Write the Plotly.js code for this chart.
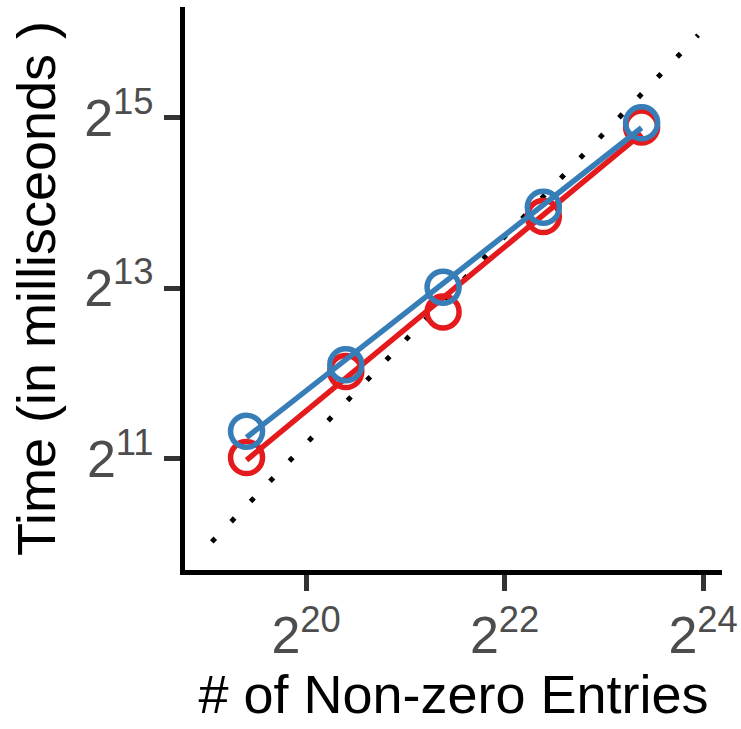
<!DOCTYPE html>
<html>
<head>
<meta charset="utf-8">
<script src="https://cdn.plot.ly/plotly-3.0.1.min.js"></script>
<style>html,body{margin:0;padding:0;background:#fff;}#chart{width:741px;height:729px;}</style>
</head>
<body>
<div id="chart"></div>
<script>
// log2 of number of non-zero entries
const nnzLog2 = [19.4, 20.4, 21.38, 22.39, 23.38];
// log2 of time in milliseconds
const redTimeLog2 = [11.01, 12.02, 12.72, 13.84, 14.89];
const blueTimeLog2 = [11.32, 12.10, 13.01, 13.95, 14.94];
// dotted reference line (log2 endpoints)
const refXLog2 = [19.05, 23.95];
const refYLog2 = [10.02, 15.97];
// tick exponents
const xTickExp = [20, 22, 24];
const yTickExp = [11, 13, 15];

const pow2 = a => a.map(v => Math.pow(2, v));
function fit(xs, ys) {
  const n = xs.length;
  const mx = xs.reduce((s, v) => s + v, 0) / n;
  const my = ys.reduce((s, v) => s + v, 0) / n;
  let sxy = 0, sxx = 0;
  for (let i = 0; i < n; i++) { sxy += (xs[i] - mx) * (ys[i] - my); sxx += (xs[i] - mx) ** 2; }
  const b = sxy / sxx, a = my - b * mx;
  const x0 = Math.min(...xs), x1 = Math.max(...xs);
  return { x: [x0, x1], y: [a + b * x0, a + b * x1] };
}
const redFit = fit(nnzLog2, redTimeLog2);
const blueFit = fit(nnzLog2, blueTimeLog2);

const RED = '#e41a1c', BLUE = '#377eb8';
const L2 = Math.log10(2);

const traces = [
  { x: pow2(refXLog2), y: pow2(refYLog2), mode: 'lines', line: { color: '#000', width: 5, dash: '5px,23px' }, hoverinfo: 'skip' },
  { x: pow2(nnzLog2), y: pow2(redTimeLog2), mode: 'markers', marker: { symbol: 'circle-open', size: 32, color: RED, line: { width: 5.5, color: RED } } },
  { x: pow2(redFit.x), y: pow2(redFit.y), mode: 'lines', line: { color: RED, width: 5.5 } },
  { x: pow2(nnzLog2), y: pow2(blueTimeLog2), mode: 'markers', marker: { symbol: 'circle-open', size: 32, color: BLUE, line: { width: 5.5, color: BLUE } } },
  { x: pow2(blueFit.x), y: pow2(blueFit.y), mode: 'lines', line: { color: BLUE, width: 5.5 } }
];

const font = 'Liberation Sans, Arial, sans-serif';
const layout = {
  width: 741, height: 729,
  margin: { l: 185, r: 19, t: 7, b: 159 },
  paper_bgcolor: '#fff', plot_bgcolor: '#fff',
  showlegend: false,
  font: { family: font, color: '#4d4d4d' },
  xaxis: {
    type: 'log',
    range: [18.78 * L2, 24.19 * L2],
    tickvals: pow2(xTickExp),
    ticktext: xTickExp.map(e => '2<sup>' + e + '</sup>'),
    tickfont: { size: 52, color: '#4d4d4d', family: font },
    ticks: 'outside', ticklen: 16, tickwidth: 5, tickcolor: '#333',
    showline: true, linecolor: '#000', linewidth: 5,
    showgrid: false, zeroline: false,
    title: { text: '# of Non-zero Entries', font: { size: 54, color: '#000', family: font }, standoff: 2 }
  },
  yaxis: {
    type: 'log',
    range: [9.69 * L2, 16.3 * L2],
    tickvals: pow2(yTickExp),
    ticktext: yTickExp.map(e => '2<sup>' + e + '</sup>'),
    tickfont: { size: 52, color: '#4d4d4d', family: font },
    ticks: 'outside', ticklen: 16, tickwidth: 5, tickcolor: '#333',
    showline: true, linecolor: '#000', linewidth: 5,
    showgrid: false, zeroline: false,
    title: { text: 'Time (in millisceonds )', font: { size: 54, color: '#000', family: font }, standoff: 13 }
  }
};

Plotly.newPlot('chart', traces, layout, { displayModeBar: false, staticPlot: true });
</script>
</body>
</html>
